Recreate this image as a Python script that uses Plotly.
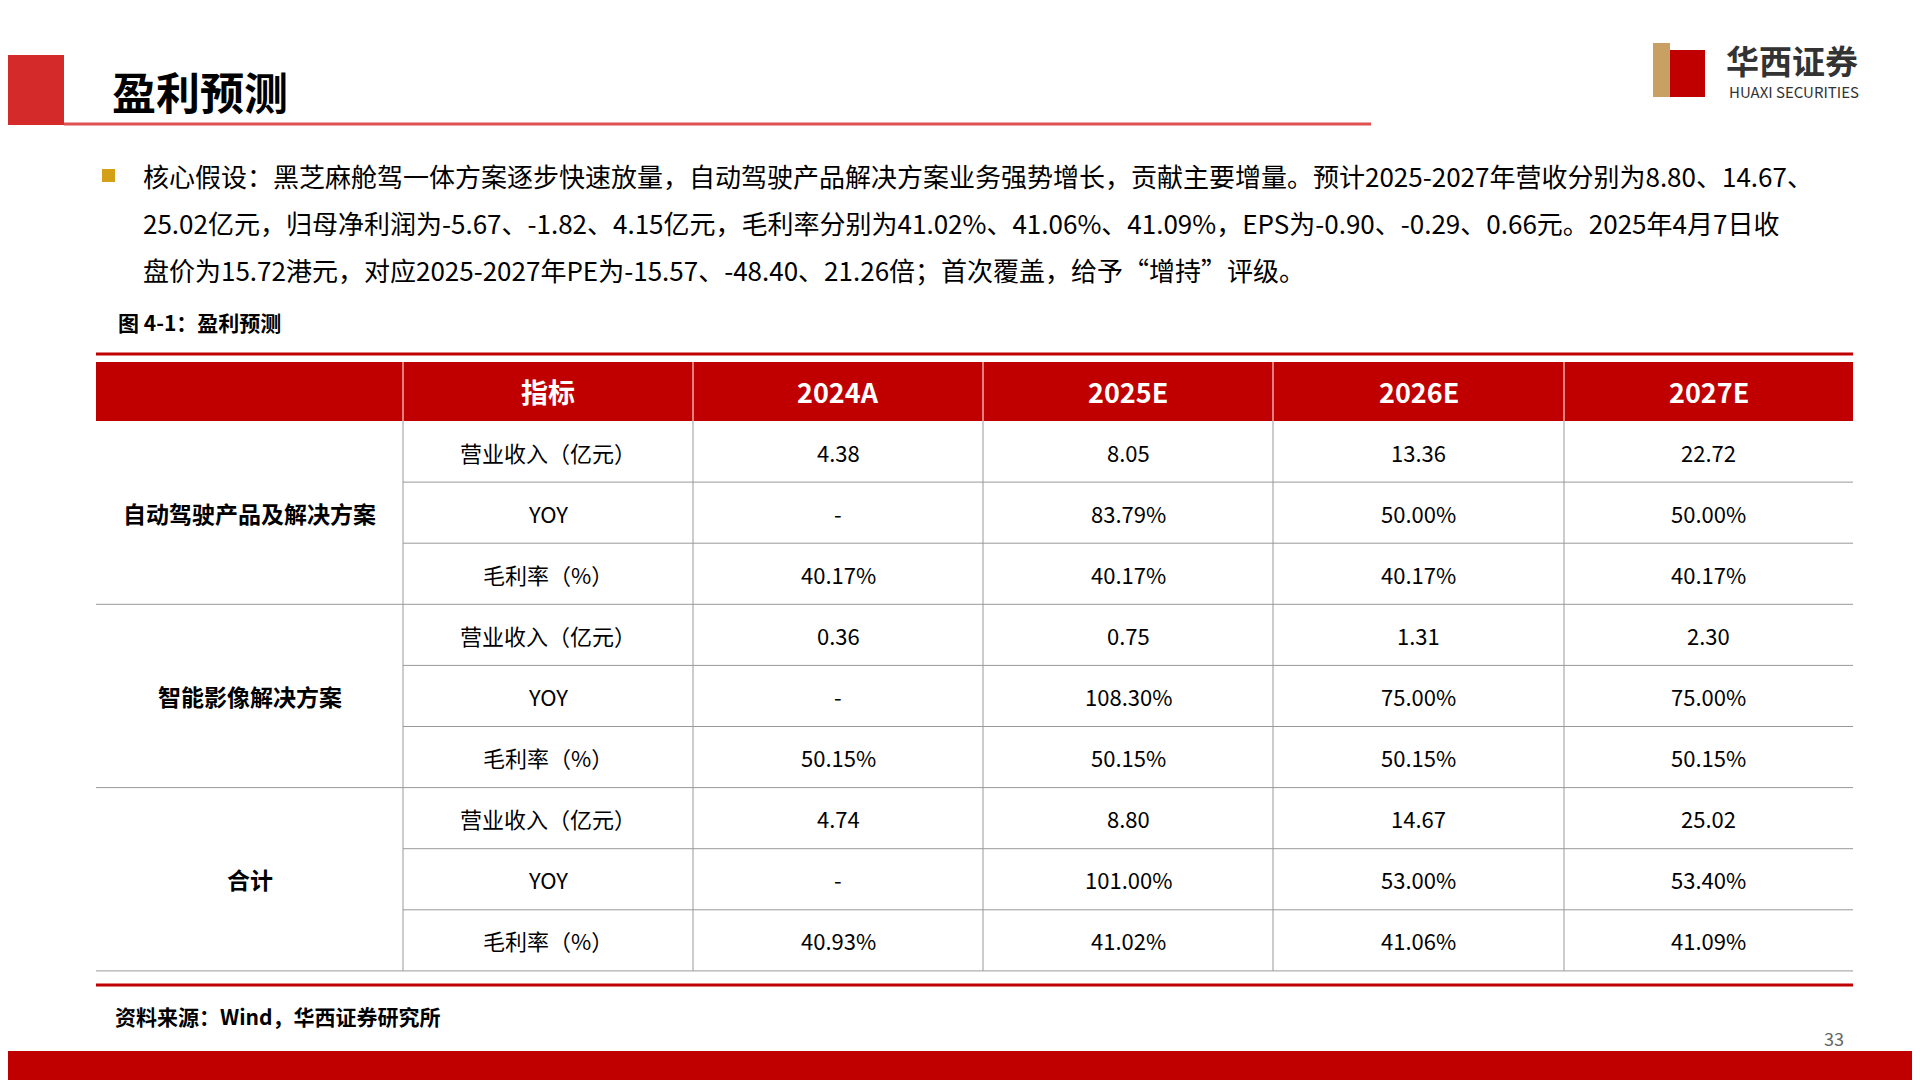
import plotly.graph_objects as go

headers = ["", "指标", "2024A", "2025E", "2026E", "2027E"]
groups = ["自动驾驶产品及解决方案", "智能影像解决方案", "合计"]
metrics = ["营业收入（亿元）", "YOY", "毛利率（%）"]
values = [
    ["4.38", "8.05", "13.36", "22.72"],
    ["-", "83.79%", "50.00%", "50.00%"],
    ["40.17%", "40.17%", "40.17%", "40.17%"],
    ["0.36", "0.75", "1.31", "2.30"],
    ["-", "108.30%", "75.00%", "75.00%"],
    ["50.15%", "50.15%", "50.15%", "50.15%"],
    ["4.74", "8.80", "14.67", "25.02"],
    ["-", "101.00%", "53.00%", "53.40%"],
    ["40.93%", "41.02%", "41.06%", "41.09%"],
]
bullet_lines = [
    "核心假设：黑芝麻舱驾一体方案逐步快速放量，自动驾驶产品解决方案业务强势增长，贡献主要增量。预计2025-2027年营收分别为8.80、14.67、",
    "25.02亿元，归母净利润为-5.67、-1.82、4.15亿元，毛利率分别为41.02%、41.06%、41.09%，EPS为-0.90、-0.29、0.66元。2025年4月7日收",
    "盘价为15.72港元，对应2025-2027年PE为-15.57、-48.40、21.26倍；首次覆盖，给予“增持”评级。",
]

RED = "#C00000"
FONT = "Noto Sans CJK SC"
colx = [96, 403, 693, 983, 1273, 1564, 1853]
head_top, head_bot = 362, 421
rowh = 61.1

fig = go.Figure()
shapes, ann = [], []

def txt(x, y, t, size, color="#000", bold=False, anchor="center", family=FONT):
    ann.append(dict(x=x, y=y, text=f"<b>{t}</b>" if bold else t, showarrow=False,
                    xanchor=anchor, yanchor="middle", font=dict(size=size, color=color, family=family)))

shapes.append(dict(type="rect", x0=-10, x1=64, y0=55, y1=125, fillcolor="#D42A2A", line_width=0))
shapes.append(dict(type="line", x0=64, x1=1371, y0=124, y1=124, line=dict(color="#E05050", width=3)))
txt(110, 91, "盈利预测", 44, bold=True, anchor="left")
shapes.append(dict(type="rect", x0=1653, x1=1670, y0=43, y1=97, fillcolor="#C9A063", line_width=0))
shapes.append(dict(type="rect", x0=1670, x1=1705, y0=50, y1=97, fillcolor="#C00000", line_width=0))
txt(1724, 60, "华西证券", 33, color="#333", bold=True, anchor="left")
txt(1727, 91, "HUAXI SECURITIES", 15, color="#333", anchor="left")
shapes.append(dict(type="rect", x0=-10, x1=1930, y0=1051, y1=1090, fillcolor=RED, line_width=0))
txt(1834, 1038, "33", 18, color="#666")

shapes.append(dict(type="rect", x0=102, x1=115, y0=169, y1=182, fillcolor="#D4A017", line_width=0))
for i, line in enumerate(bullet_lines):
    txt(141, 175 + i * 47, line, 26, anchor="left")
txt(116, 322, "图 4-1：盈利预测", 21, bold=True, anchor="left")

shapes.append(dict(type="line", x0=96, x1=1853, y0=354, y1=354, line=dict(color=RED, width=3)))
shapes.append(dict(type="rect", x0=96, x1=1853, y0=head_top, y1=head_bot, fillcolor=RED, line_width=0))
for j in range(1, 6):
    shapes.append(dict(type="line", x0=colx[j], x1=colx[j], y0=head_top, y1=head_bot, line=dict(color="white", width=1)))
for j, h in enumerate(headers):
    if h:
        txt((colx[j] + colx[j + 1]) / 2, (head_top + head_bot) / 2, h, 27, color="white", bold=True)

for r, row in enumerate(values):
    y0 = head_bot + r * rowh
    y1 = y0 + rowh
    yc = (y0 + y1) / 2
    left = colx[0] if r % 3 == 2 else colx[1]
    shapes.append(dict(type="line", x0=left, x1=colx[6], y0=y1, y1=y1, line=dict(color="#999", width=1)))
    txt((colx[1] + colx[2]) / 2, yc, metrics[r % 3], 22)
    for j, v in enumerate(row):
        txt((colx[j + 2] + colx[j + 3]) / 2, yc, v, 22)
for g, name in enumerate(groups):
    txt((colx[0] + colx[1]) / 2, head_bot + (g * 3 + 1.5) * rowh, name, 23, bold=True)
bot = head_bot + 9 * rowh
for j in range(1, 6):
    shapes.append(dict(type="line", x0=colx[j], x1=colx[j], y0=head_bot, y1=bot, line=dict(color="#999", width=1)))
shapes.append(dict(type="line", x0=96, x1=1853, y0=985, y1=985, line=dict(color=RED, width=3)))
txt(113, 1016, "资料来源：Wind，华西证券研究所", 21, bold=True, anchor="left")

fig.update_layout(width=1920, height=1080, margin=dict(l=0, r=0, t=0, b=0),
                  paper_bgcolor="white", plot_bgcolor="white", shapes=shapes, annotations=ann,
                  xaxis=dict(range=[8, 1928], visible=False, fixedrange=True),
                  yaxis=dict(range=[1088, 8], visible=False, fixedrange=True), showlegend=False)
fig.write_html("out.html")
